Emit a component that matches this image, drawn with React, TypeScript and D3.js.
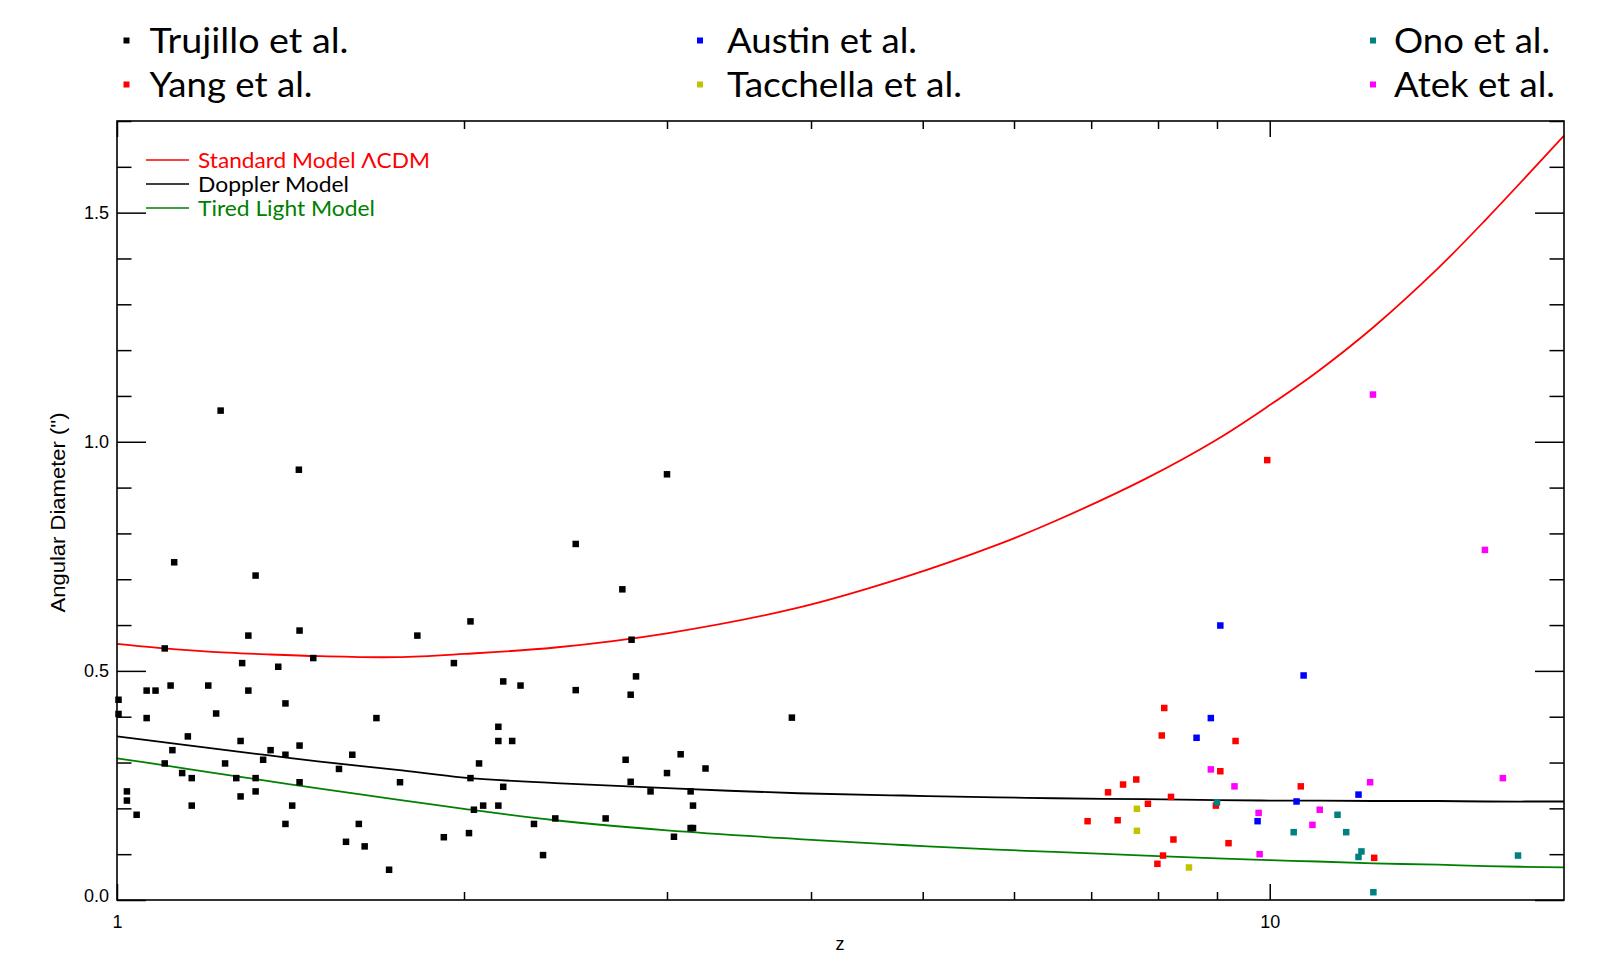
import React, { useRef, useEffect } from "react";
import * as d3 from "d3";

type Pt = [number, number];

// observed angular diameters, [z, arcsec]
const trujillo: Pt[] = [
  [1.23, 1.068], [1.438, 0.939], [1.121, 0.737], [1.319, 0.708], [2.026, 0.608],
  [1.3, 0.577], [1.44, 0.588], [1.822, 0.577], [1.1, 0.549], [1.48, 0.528],
  [1.284, 0.517], [1.96, 0.517], [1.38, 0.509], [1.061, 0.457], [1.08, 0.457],
  [1.113, 0.468], [1.2, 0.468], [1.3, 0.457], [2.163, 0.477], [2.239, 0.468],
  [1.003, 0.437], [1.003, 0.406], [1.061, 0.397], [1.219, 0.407], [1.4, 0.429],
  [1.679, 0.397], [1.152, 0.357], [1.28, 0.347], [2.142, 0.378], [2.142, 0.347],
  [2.202, 0.347], [1.44, 0.337], [1.117, 0.327], [1.359, 0.327], [1.4, 0.317],
  [1.6, 0.317], [1.339, 0.306], [1.1, 0.298], [1.241, 0.298], [2.061, 0.298],
  [1.558, 0.286], [1.139, 0.277], [1.161, 0.266], [1.269, 0.266], [1.319, 0.266],
  [2.026, 0.266], [1.44, 0.257], [1.76, 0.257], [2.163, 0.247], [1.02, 0.237],
  [1.319, 0.237], [1.28, 0.226], [1.02, 0.217], [1.161, 0.206], [1.419, 0.206],
  [2.078, 0.206], [2.142, 0.206], [2.04, 0.197], [1.04, 0.186], [1.4, 0.166],
  [1.621, 0.166], [2.3, 0.166], [2.02, 0.146], [1.921, 0.137], [1.58, 0.127],
  [1.64, 0.117], [2.342, 0.098], [1.722, 0.066],
  [3.0, 0.929], [2.5, 0.777], [2.744, 0.678], [2.795, 0.568], [2.82, 0.488],
  [2.5, 0.458], [2.79, 0.448], [3.85, 0.398], [2.762, 0.306], [3.083, 0.318],
  [3.0, 0.277], [3.24, 0.287], [2.79, 0.258], [2.903, 0.237], [3.145, 0.237],
  [3.16, 0.206], [2.4, 0.178], [2.654, 0.178], [3.145, 0.157], [3.16, 0.157],
  [3.042, 0.138],
];

const yang: Pt[] = [
  [8.1, 0.419], [8.06, 0.359], [9.34, 0.347], [9.06, 0.281], [10.64, 0.248],
  [7.66, 0.263], [7.46, 0.252], [7.24, 0.235], [8.21, 0.225], [7.84, 0.21],
  [8.98, 0.206], [6.95, 0.172], [7.38, 0.174], [8.25, 0.132], [9.21, 0.124],
  [8.08, 0.097], [7.99, 0.079], [12.32, 0.092], [9.95, 0.96],
];

const austin: Pt[] = [
  [9.06, 0.599], [10.7, 0.49], [8.89, 0.397], [8.64, 0.354], [11.94, 0.23],
  [10.55, 0.215], [9.76, 0.172],
];

const tacchella: Pt[] = [[7.67, 0.199], [7.67, 0.151], [8.51, 0.071]];

const ono: Pt[] = [
  [9.0, 0.213], [11.45, 0.186], [10.49, 0.148], [11.65, 0.148], [12.01, 0.106],
  [11.94, 0.094], [16.42, 0.097], [12.3, 0.017],
];

const atek: Pt[] = [
  [8.89, 0.285], [9.32, 0.248], [12.22, 0.257], [15.93, 0.266], [9.78, 0.19],
  [11.05, 0.197], [10.89, 0.164], [9.8, 0.1], [12.29, 1.103], [15.37, 0.764],
];

// model curves
const modelZ = [1, 1.1, 1.2, 1.35, 1.5, 1.75, 2, 2.4, 3, 3.9, 4.8, 5.8, 6.5, 7.8, 9, 10, 11, 12.3, 14, 15.4, 18];
const lcdm = [0.559, 0.549, 0.542, 0.536, 0.532, 0.530, 0.537, 0.551, 0.582, 0.638, 0.703, 0.775, 0.826, 0.919, 1.005, 1.08, 1.153, 1.25, 1.379, 1.485, 1.668];
const doppler = [0.357, 0.344, 0.332, 0.316, 0.302, 0.284, 0.267, 0.255, 0.244, 0.233, 0.228, 0.224, 0.222, 0.22, 0.218, 0.217, 0.217, 0.216, 0.216, 0.215, 0.215];
const tiredLight = [0.309, 0.294, 0.279, 0.26, 0.243, 0.219, 0.199, 0.174, 0.152, 0.133, 0.12, 0.11, 0.105, 0.097, 0.091, 0.087, 0.084, 0.08, 0.077, 0.074, 0.071];

const xMajor = [1, 10];
const xMinor = [2, 3, 4, 5, 6, 7, 8, 9];
const yMajor = [0, 0.5, 1.0, 1.5];
const yMinor = [0.1, 0.2, 0.3, 0.4, 0.6, 0.7, 0.8, 0.9, 1.1, 1.2, 1.3, 1.4, 1.6, 1.7];

const sampleNames = ["Trujillo et al.", "Yang et al.", "Austin et al.", "Tacchella et al.", "Ono et al.", "Atek et al."];
const sampleData = [trujillo, yang, austin, tacchella, ono, atek];
const sampleColors = ["#000000", "#ff0000", "#0000ff", "#c2c200", "#008080", "#ff00ff"];

const modelNames = ["Standard Model \u039BCDM", "Doppler Model", "Tired Light Model"];
const modelData = [lcdm, doppler, tiredLight];
const modelColors = ["#ff0000", "#000000", "#008000"];

const App = () => {
  const ref: any = useRef();

  useEffect(() => {
    document.body.style.margin = "0";
    document.body.style.overflow = "hidden";

    const svg = d3.select(ref.current);
    svg.selectAll("*").remove();

    const left = 117, right = 1564, top = 121, bottom = 900;
    const x = d3.scaleLog().domain([1, 18]).range([left, right]);
    const y = d3.scaleLinear().domain([0, 1.7]).range([bottom, top]);
    const axisFont = "'Liberation Sans', Arial, sans-serif";
    const legendFont = "Lato, 'Open Sans', sans-serif";

    // model curves
    const line = d3
      .line<number>()
      .x((d, i) => x(modelZ[i]))
      .y((d) => y(d))
      .curve(d3.curveCatmullRom.alpha(0.5));

    modelData.forEach((vals, i) => {
      svg
        .append("path")
        .attr("d", line(vals))
        .attr("fill", "none")
        .attr("stroke", modelColors[i])
        .attr("stroke-width", 1.8);
    });

    // data points
    const s = 6.5;
    sampleData.forEach((pts, i) => {
      svg
        .append("g")
        .selectAll("rect")
        .data(pts)
        .enter()
        .append("rect")
        .attr("x", (d: Pt) => x(d[0]) - s / 2)
        .attr("y", (d: Pt) => y(d[1]) - s / 2)
        .attr("width", s)
        .attr("height", s)
        .attr("fill", sampleColors[i]);
    });

    // axes (ticks point inwards, like the IDL box)
    const styleAxis = (g: any) => {
      g.select(".domain").remove();
      g.selectAll(".tick line").attr("stroke", "#000").attr("stroke-width", 1.5);
      g.selectAll(".tick text")
        .attr("font-family", axisFont)
        .attr("font-size", 18)
        .attr("fill", "#000");
    };

    svg.append("g").attr("transform", `translate(0,${bottom})`)
      .call(d3.axisBottom(x).tickValues(xMajor).tickSize(-16).tickPadding(15).tickFormat(d3.format("d")))
      .call(styleAxis);
    svg.append("g").attr("transform", `translate(0,${bottom})`)
      .call(d3.axisBottom(x).tickValues(xMinor).tickSize(-8).tickFormat(() => ""))
      .call(styleAxis);
    svg.append("g").attr("transform", `translate(0,${top})`)
      .call(d3.axisTop(x).tickValues(xMajor).tickSize(-16).tickFormat(() => ""))
      .call(styleAxis);
    svg.append("g").attr("transform", `translate(0,${top})`)
      .call(d3.axisTop(x).tickValues(xMinor).tickSize(-8).tickFormat(() => ""))
      .call(styleAxis);

    const yAxisG = svg.append("g").attr("transform", `translate(${left},0)`)
      .call(d3.axisLeft(y).tickValues(yMajor).tickSize(-29).tickPadding(8).tickFormat(d3.format(".1f")))
      .call(styleAxis);
    // the bottom label sits a little above its tick in the original
    yAxisG.selectAll(".tick text").filter((d: any) => d === 0).attr("dy", "0.1em");

    svg.append("g").attr("transform", `translate(${left},0)`)
      .call(d3.axisLeft(y).tickValues(yMinor).tickSize(-14.5).tickFormat(() => ""))
      .call(styleAxis);
    svg.append("g").attr("transform", `translate(${right},0)`)
      .call(d3.axisRight(y).tickValues(yMajor).tickSize(-29).tickFormat(() => ""))
      .call(styleAxis);
    svg.append("g").attr("transform", `translate(${right},0)`)
      .call(d3.axisRight(y).tickValues(yMinor).tickSize(-14.5).tickFormat(() => ""))
      .call(styleAxis);

    svg
      .append("rect")
      .attr("x", left)
      .attr("y", top)
      .attr("width", right - left)
      .attr("height", bottom - top)
      .attr("fill", "none")
      .attr("stroke", "#000")
      .attr("stroke-width", 1.6);

    // axis titles
    svg
      .append("text")
      .attr("x", 840)
      .attr("y", 950)
      .attr("text-anchor", "middle")
      .attr("font-family", axisFont)
      .attr("font-size", 18)
      .text("z");

    svg
      .append("text")
      .attr("transform", "translate(65,512.5) rotate(-90)")
      .attr("text-anchor", "middle")
      .attr("font-family", axisFont)
      .attr("font-size", 20)
      .attr("textLength", 200)
      .attr("lengthAdjust", "spacingAndGlyphs")
      .text("Angular  Diameter  (\")");

    // model legend inside the box
    const mLineY = [160, 184, 208];
    const mTextLen = [232, 151, 177];
    modelNames.forEach((name, i) => {
      svg
        .append("line")
        .attr("x1", 146)
        .attr("x2", 189)
        .attr("y1", mLineY[i])
        .attr("y2", mLineY[i])
        .attr("stroke", modelColors[i])
        .attr("stroke-width", 1.6);
      svg
        .append("text")
        .attr("x", 198)
        .attr("y", mLineY[i] + 8)
        .attr("font-family", legendFont)
        .attr("font-size", 22)
        .attr("fill", modelColors[i])
        .attr("textLength", mTextLen[i])
        .attr("lengthAdjust", "spacingAndGlyphs")
        .text(name);
    });

    // sample legend above the plot
    const colMarkerX = [126.5, 700, 1373];
    const colTextX = [149.5, 727, 1394];
    const rowBase = [53, 97];
    const sTextLen = [199, 163, 190, 235, 156, 161];
    sampleNames.forEach((name, i) => {
      const col = Math.floor(i / 2);
      const row = i % 2;
      svg
        .append("rect")
        .attr("x", colMarkerX[col] - 3)
        .attr("y", rowBase[row] - 12.5 - 3)
        .attr("width", 6)
        .attr("height", 6)
        .attr("fill", sampleColors[i]);
      svg
        .append("text")
        .attr("x", colTextX[col])
        .attr("y", rowBase[row])
        .attr("font-family", legendFont)
        .attr("font-size", 35)
        .attr("fill", "#000")
        .attr("textLength", sTextLen[i])
        .attr("lengthAdjust", "spacingAndGlyphs")
        .text(name);
    });
  }, []);

  return (
    <svg
      ref={ref}
      width={1600}
      height={969}
      style={{ display: "block", background: "#fff" }}
    ></svg>
  );
};

export default App;
